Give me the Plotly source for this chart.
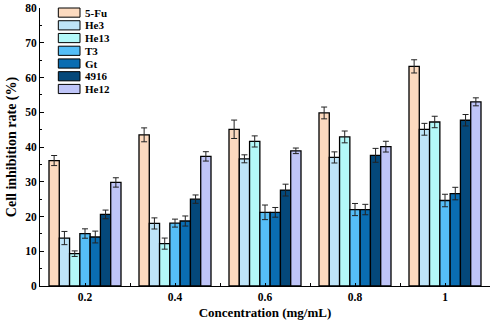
import plotly.graph_objects as go

categories = ["0.2", "0.4", "0.6", "0.8", "1"]
series_names = ["5-Fu", "He3", "He13", "T3", "Gt", "4916", "He12"]
colors = ["#FCDABF", "#BEE4F8", "#B3F8F8", "#55BEF7", "#0A6DB2", "#04487A", "#BFC5F8"]

values = {
    "5-Fu": [36.1, 43.5, 45.1, 49.8, 63.2],
    "He3":  [13.8, 18.0, 36.6, 37.0, 45.1],
    "He13": [9.3, 12.2, 41.6, 42.9, 47.2],
    "T3":   [15.1, 18.1, 21.2, 22.0, 24.6],
    "Gt":   [14.1, 18.7, 21.2, 22.0, 26.6],
    "4916": [20.6, 25.0, 27.6, 37.6, 47.7],
    "He12": [29.8, 37.3, 38.9, 40.1, 53.0],
}
errors = {
    "5-Fu": [1.45, 2.0, 2.65, 1.7, 1.9],
    "He3":  [1.9, 1.6, 1.15, 1.6, 1.7],
    "He13": [0.8, 1.6, 1.6, 1.7, 1.65],
    "T3":   [1.35, 1.15, 2.1, 1.75, 1.8],
    "Gt":   [1.7, 1.45, 1.4, 1.5, 1.8],
    "4916": [1.25, 1.2, 1.7, 2.0, 1.65],
    "He12": [1.35, 1.35, 0.8, 1.55, 1.15],
}

FONT = "Liberation Serif, Times New Roman, serif"
xpos = list(range(len(categories)))

fig = go.Figure()
for name, col in zip(series_names, colors):
    fig.add_trace(go.Bar(
        x=xpos, y=values[name], name=name,
        marker=dict(color=col, line=dict(color="black", width=1.3)),
        error_y=dict(type="data", array=errors[name], color="#222222",
                     thickness=1, width=3),
        showlegend=False,
    ))

# custom legend (wide rectangular swatches)
x0, x1, xt = 0.0407, 0.0889, 0.0962
top, h, step = 1.0, 0.033, 0.0458
for i, (name, col) in enumerate(zip(series_names, colors)):
    yt = top - i * step
    fig.add_shape(type="rect", xref="x domain", yref="y domain",
                  x0=x0, x1=x1, y0=yt - h, y1=yt,
                  fillcolor=col, line=dict(color="black", width=1))
    fig.add_annotation(xref="x domain", yref="y domain", x=xt, y=yt - h / 2,
                       text=name, showarrow=False, xanchor="left", yanchor="middle",
                       font=dict(family=FONT, size=11, color="black", weight="bold"))

fig.update_layout(
    width=500, height=323,
    margin=dict(l=40, r=10, t=8, b=37, autoexpand=False),
    paper_bgcolor="white", plot_bgcolor="white",
    barmode="group", bargap=0.2, bargroupgap=0,
    font=dict(family=FONT, size=11, color="black", weight="bold"),
)
fig.update_xaxes(
    automargin=False,
    range=[-0.5, 4.5], tickmode="array", tickvals=xpos, ticktext=categories,
    ticks="inside", ticklen=3, tickcolor="black",
    minor=dict(ticks="inside", ticklen=3, tickmode="array",
               tickvals=[i + 0.5 for i in xpos[:-1]], tickcolor="black"),
    showline=True, linecolor="black", linewidth=1, showgrid=False, zeroline=False,
    tickfont=dict(family=FONT, size=11.5, weight="bold"),
    title=dict(text="Concentration (mg/mL)", standoff=6,
               font=dict(family=FONT, size=13, weight="bold")),
)
fig.update_yaxes(
    automargin=False,
    range=[0, 80], dtick=10, ticks="inside", ticklen=4, tickcolor="black",
    minor=dict(ticks="inside", ticklen=2, dtick=5, tickcolor="black"),
    showline=True, linecolor="black", linewidth=1, showgrid=False, zeroline=False,
    tickfont=dict(family=FONT, size=11.5, weight="bold"),
    title=dict(text="Cell inhibition rate (%)", standoff=5,
               font=dict(family=FONT, size=14, weight="bold")),
)

fig.write_html("out.html")
